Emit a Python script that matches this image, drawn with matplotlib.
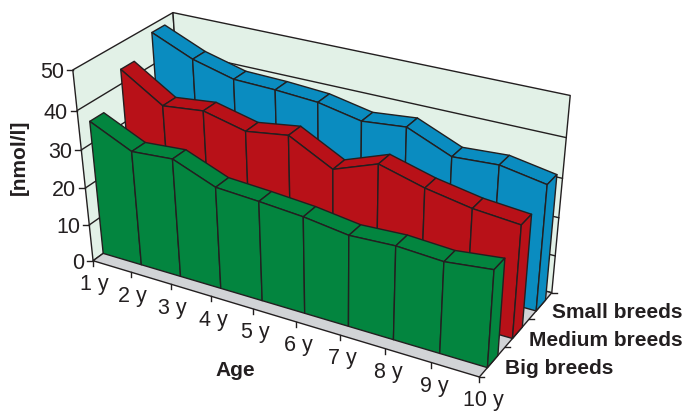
import numpy as np
import matplotlib
matplotlib.use("Agg")
import matplotlib.pyplot as plt
from matplotlib.patches import Polygon

plt.rcParams['font.family'] = ['Liberation Sans', 'DejaVu Sans']

# Data
ages = ['1 y', '2 y', '3 y', '4 y', '5 y', '6 y', '7 y', '8 y', '9 y', '10 y']
breeds = ['Big breeds', 'Medium breeds', 'Small breeds']
big = [35.6, 30.5, 31.3, 26.9, 26.2, 25.3, 23.7, 24.2, 23.5, 24.8]
medium = [43.6, 36.7, 37.9, 35.3, 36.9, 31.1, 35.2, 32.1, 30.0, 29.0]
small = [48.1, 43.5, 40.7, 40.4, 39.7, 37.5, 38.6, 33.9, 34.6, 32.6]
z_ticks = [0, 10, 20, 30, 40, 50]

colors = ['#03853f', '#b81118', '#0a8cc0']
wall_color = '#e2f1e7'
floor_color = '#d1d3d6'
ink = '#231f20'

# Camera: world (age index, depth, value) matched to where the box corners sit in the picture
world_pts = [(0, 0, 0), (9, 0, 0), (9, 3, 0), (0, 3, 0), (0, 0, 50), (0, 3, 50), (9, 3, 50),
             (0, 0, 40), (0, 0, 30), (0, 0, 20), (0, 0, 10), (9, 3, 40), (9, 3, 30),
             (1, 0, 0), (2, 0, 0), (3, 0, 0), (4, 0, 0), (5, 0, 0), (6, 0, 0)]
pixel_pts = [(93.3, 260), (480, 378), (552, 292), (185, 196), (73.3, 71), (173, 11), (570.7, 96.7),
             (77.3, 110), (81, 150), (84.7, 189), (89.3, 225), (566, 138), (561.7, 177),
             (131.7, 271.7), (170.7, 283.6), (210.7, 295.8), (252.7, 308.6), (295, 321.5), (340, 335.2)]


def fit_camera(world, pixel):
    rows, rhs = [], []
    for (x, y, z), (u, v) in zip(world, pixel):
        rows.append([x, y, z, 1, 0, 0, 0, 0, -u * x, -u * y, -u * z])
        rows.append([0, 0, 0, 0, x, y, z, 1, -v * x, -v * y, -v * z])
        rhs += [u, v]
    p = np.linalg.lstsq(np.array(rows, float), np.array(rhs, float), rcond=None)[0]
    return np.append(p, 1).reshape(3, 4)


camera = fit_camera(world_pts, pixel_pts)


def project(x, y, z):
    u, v, w = camera @ np.array([x, y, z, 1.0])
    return u / w, v / w


fig = plt.figure(figsize=(6.86, 4.12), dpi=100)
ax = fig.add_axes([0, 0, 1, 1])
ax.set_xlim(0, 686)
ax.set_ylim(412, 0)
ax.axis('off')

n = len(ages) - 1
line_w = 1.0


def quad(points, color, order):
    ax.add_patch(Polygon([project(*p) for p in points], closed=True, facecolor=color,
                         edgecolor=ink, linewidth=line_w, joinstyle='round', zorder=order))


def segment(a, b, order=2):
    pa, pb = project(*a), project(*b)
    ax.plot([pa[0], pb[0]], [pa[1], pb[1]], color=ink, lw=line_w, zorder=order)


# Walls and floor
top = z_ticks[-1]
quad([(0, 0, 0), (0, 3, 0), (0, 3, top), (0, 0, top)], wall_color, 1)
quad([(0, 3, 0), (n, 3, 0), (n, 3, top), (0, 3, top)], wall_color, 1)
quad([(0, 0, 0), (n, 0, 0), (n, 3, 0), (0, 3, 0)], floor_color, 1)
for z in z_ticks[1:-1]:
    segment((0, 0, z), (0, 3, z))
    segment((0, 3, z), (n, 3, z))

# Ribbons, back to front
series = [small, medium, big]
depths = [2, 1, 0]
for s, (values, d) in enumerate(zip(series, depths)):
    color = colors[d]
    front, back = d + 0.31, d + 0.72
    order = 3 + s * 3
    for i in range(n):
        quad([(i, back, values[i]), (i + 1, back, values[i + 1]),
              (i + 1, front, values[i + 1]), (i, front, values[i])], color, order)
        quad([(i, front, 0), (i + 1, front, 0),
              (i + 1, front, values[i + 1]), (i, front, values[i])], color, order + 1)
    quad([(n, front, 0), (n, back, 0), (n, back, values[n]), (n, front, values[n])], color, order + 2)

# Value axis ticks and labels
for z in z_ticks:
    u, v = project(0, 0, z)
    ax.plot([u - 6, u], [v, v], color=ink, lw=line_w, zorder=2)
    ax.text(u - 9, v + 2.5, str(z), ha='right', va='center', fontsize=15.5, color=ink)

# Age ticks and labels
for i, label in enumerate(ages):
    u, v = project(i, 0, 0)
    ax.plot([u, u], [v, v + 5], color=ink, lw=line_w, zorder=2)
    ax.text(u + 1 + 0.3 * i, v + 24, label, ha='center', va='center', fontsize=15.5, color=ink)

# Breed ticks and labels
for d in range(4):
    u, v = project(n, d, 0)
    ax.plot([u, u + 5], [v, v], color=ink, lw=line_w, zorder=2)
for d, label in enumerate(breeds):
    u, v = project(n, d + 0.5, 0)
    ax.text(u + 13 - d, v + 7, label, ha='left', va='center', fontsize=15,
            fontweight='bold', color=ink)

ax.text(19, 157, '[nmol/l]', rotation=90, ha='center', va='center', fontsize=15,
        fontweight='bold', color=ink)
ax.text(235, 370, 'Age', ha='center', va='center', fontsize=15, fontweight='bold', color=ink)

fig.savefig('out.png', dpi=100)
